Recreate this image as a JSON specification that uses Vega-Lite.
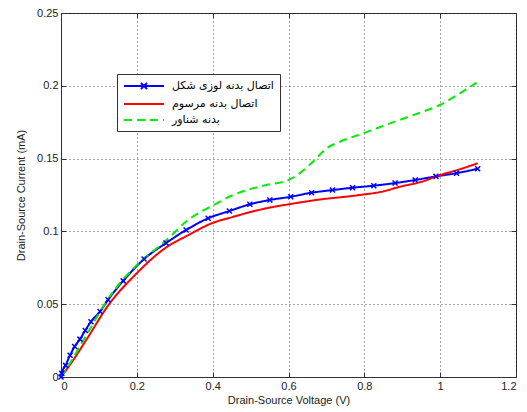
{
  "$schema": "https://vega.github.io/schema/vega-lite/v6.json",
  "width": 455,
  "height": 364,
  "autosize": {"type": "none"},
  "padding": {"left": 61, "top": 13, "right": 11, "bottom": 35},
  "background": "white",
  "config": {
    "view": {"stroke": "#333", "strokeWidth": 1},
    "font": "Liberation Sans",
    "axis": {
      "labelFont": "Liberation Sans",
      "labelFontSize": 11,
      "labelColor": "#222",
      "titleFont": "Liberation Sans",
      "titleFontSize": 11,
      "titleFontWeight": "normal",
      "titleColor": "#222",
      "domainColor": "#333",
      "tickColor": "#333",
      "tickSize": -5,
      "gridColor": "#000",
      "gridDash": [1, 3],
      "gridOpacity": 0.7,
      "labelPadding": 8
    }
  },
  "data": {
    "values": [
      {"s": "اتصال بدنه لوزی شکل", "v": 0, "i": 0},
      {"s": "اتصال بدنه لوزی شکل", "v": 0.002, "i": 0.0025},
      {"s": "اتصال بدنه لوزی شکل", "v": 0.012, "i": 0.008},
      {"s": "اتصال بدنه لوزی شکل", "v": 0.024, "i": 0.015},
      {"s": "اتصال بدنه لوزی شکل", "v": 0.036, "i": 0.021},
      {"s": "اتصال بدنه لوزی شکل", "v": 0.05, "i": 0.026},
      {"s": "اتصال بدنه لوزی شکل", "v": 0.064, "i": 0.032},
      {"s": "اتصال بدنه لوزی شکل", "v": 0.079, "i": 0.038},
      {"s": "اتصال بدنه لوزی شکل", "v": 0.103, "i": 0.045},
      {"s": "اتصال بدنه لوزی شکل", "v": 0.124, "i": 0.053},
      {"s": "اتصال بدنه لوزی شکل", "v": 0.164, "i": 0.066},
      {"s": "اتصال بدنه لوزی شکل", "v": 0.219, "i": 0.081},
      {"s": "اتصال بدنه لوزی شکل", "v": 0.277, "i": 0.092},
      {"s": "اتصال بدنه لوزی شکل", "v": 0.33, "i": 0.101},
      {"s": "اتصال بدنه لوزی شکل", "v": 0.388, "i": 0.109},
      {"s": "اتصال بدنه لوزی شکل", "v": 0.444, "i": 0.114},
      {"s": "اتصال بدنه لوزی شکل", "v": 0.498, "i": 0.1186},
      {"s": "اتصال بدنه لوزی شکل", "v": 0.551, "i": 0.1216},
      {"s": "اتصال بدنه لوزی شکل", "v": 0.606, "i": 0.1238},
      {"s": "اتصال بدنه لوزی شکل", "v": 0.661, "i": 0.1266},
      {"s": "اتصال بدنه لوزی شکل", "v": 0.716, "i": 0.1284},
      {"s": "اتصال بدنه لوزی شکل", "v": 0.769, "i": 0.13},
      {"s": "اتصال بدنه لوزی شکل", "v": 0.825, "i": 0.1314},
      {"s": "اتصال بدنه لوزی شکل", "v": 0.881, "i": 0.1332},
      {"s": "اتصال بدنه لوزی شکل", "v": 0.934, "i": 0.1353},
      {"s": "اتصال بدنه لوزی شکل", "v": 0.989, "i": 0.1378},
      {"s": "اتصال بدنه لوزی شکل", "v": 1.043, "i": 0.14},
      {"s": "اتصال بدنه لوزی شکل", "v": 1.099, "i": 0.143},
      {"s": "اتصال بدنه مرسوم", "v": 0, "i": 0},
      {"s": "اتصال بدنه مرسوم", "v": 0.02, "i": 0.007},
      {"s": "اتصال بدنه مرسوم", "v": 0.072, "i": 0.0277},
      {"s": "اتصال بدنه مرسوم", "v": 0.124, "i": 0.049},
      {"s": "اتصال بدنه مرسوم", "v": 0.195, "i": 0.07},
      {"s": "اتصال بدنه مرسوم", "v": 0.274, "i": 0.0884},
      {"s": "اتصال بدنه مرسوم", "v": 0.336, "i": 0.0975},
      {"s": "اتصال بدنه مرسوم", "v": 0.397, "i": 0.1055},
      {"s": "اتصال بدنه مرسوم", "v": 0.454, "i": 0.11},
      {"s": "اتصال بدنه مرسوم", "v": 0.542, "i": 0.1159},
      {"s": "اتصال بدنه مرسوم", "v": 0.6, "i": 0.1186},
      {"s": "اتصال بدنه مرسوم", "v": 0.674, "i": 0.1216},
      {"s": "اتصال بدنه مرسوم", "v": 0.788, "i": 0.125},
      {"s": "اتصال بدنه مرسوم", "v": 0.85, "i": 0.1275},
      {"s": "اتصال بدنه مرسوم", "v": 0.894, "i": 0.1307},
      {"s": "اتصال بدنه مرسوم", "v": 0.95, "i": 0.134},
      {"s": "اتصال بدنه مرسوم", "v": 1.0, "i": 0.1387},
      {"s": "اتصال بدنه مرسوم", "v": 1.05, "i": 0.1425},
      {"s": "اتصال بدنه مرسوم", "v": 1.099, "i": 0.1468},
      {"s": "بدنه شناور", "v": 0, "i": 0},
      {"s": "بدنه شناور", "v": 0.02, "i": 0.008},
      {"s": "بدنه شناور", "v": 0.072, "i": 0.031},
      {"s": "بدنه شناور", "v": 0.125, "i": 0.054},
      {"s": "بدنه شناور", "v": 0.204, "i": 0.078},
      {"s": "بدنه شناور", "v": 0.274, "i": 0.093},
      {"s": "بدنه شناور", "v": 0.336, "i": 0.108},
      {"s": "بدنه شناور", "v": 0.402, "i": 0.118},
      {"s": "بدنه شناور", "v": 0.454, "i": 0.125},
      {"s": "بدنه شناور", "v": 0.542, "i": 0.1319},
      {"s": "بدنه شناور", "v": 0.6, "i": 0.1353},
      {"s": "بدنه شناور", "v": 0.63, "i": 0.14},
      {"s": "بدنه شناور", "v": 0.665, "i": 0.148},
      {"s": "بدنه شناور", "v": 0.7, "i": 0.157},
      {"s": "بدنه شناور", "v": 0.736, "i": 0.1616},
      {"s": "بدنه شناور", "v": 0.802, "i": 0.1678},
      {"s": "بدنه شناور", "v": 0.868, "i": 0.1742},
      {"s": "بدنه شناور", "v": 0.934, "i": 0.1804},
      {"s": "بدنه شناور", "v": 0.999, "i": 0.1868},
      {"s": "بدنه شناور", "v": 1.052, "i": 0.1948},
      {"s": "بدنه شناور", "v": 1.096, "i": 0.2021}
    ]
  },
  "layer": [
    {
      "mark": {"type": "line", "strokeWidth": 2, "interpolate": "monotone"},
      "encoding": {
        "x": {
          "field": "v", "type": "quantitative",
          "scale": {"domain": [0, 1.2], "nice": false, "zero": false},
          "axis": {"values": [0, 0.2, 0.4, 0.6, 0.8, 1, 1.2], "format": "~g", "title": "Drain-Source Voltage (V)", "titlePadding": 3, "grid": true}
        },
        "y": {
          "field": "i", "type": "quantitative",
          "scale": {"domain": [0, 0.25], "nice": false},
          "axis": {"values": [0, 0.05, 0.1, 0.15, 0.2, 0.25], "format": "~g", "title": "Drain-Source Current (mA)", "titlePadding": 10, "grid": true}
        },
        "color": {
          "field": "s", "type": "nominal",
          "scale": {"domain": ["اتصال بدنه لوزی شکل", "اتصال بدنه مرسوم", "بدنه شناور"], "range": ["#0000ff", "#ff0000", "#00ee00"]},
          "legend": {
            "title": null,
            "orient": "none",
            "legendX": 56,
            "legendY": 61,
            "direction": "vertical",
            "strokeColor": "#333",
            "fillColor": "white",
            "padding": 6,
            "labelFont": "DejaVu Sans",
            "labelFontSize": 11,
            "labelColor": "#000",
            "labelLimit": 300,
            "symbolType": "M-4,0L4,0",
            "symbolSize": 100,
            "symbolStrokeWidth": 2,
            "symbolOffset": 15,
            "labelOffset": 22,
            "rowPadding": 5,
            "encode": {
              "symbols": {
                "update": {
                  "shape": {"signal": "datum.index === 0 ? 'M-4,0L4,0M-0.6,-0.6L0.6,0.6M-0.6,0.6L0.6,-0.6' : 'M-4,0L4,0'"}
                }
              }
            }
          }
        },
        "strokeDash": {
          "field": "s", "type": "nominal",
          "scale": {"domain": ["اتصال بدنه لوزی شکل", "اتصال بدنه مرسوم", "بدنه شناور"], "range": [[1, 0], [1, 0], [8, 5]]},
          "legend": null
        }
      }
    },
    {
      "transform": [{"filter": "datum.s === 'اتصال بدنه لوزی شکل'"}],
      "mark": {"type": "point", "shape": "M-1,-1L1,1M-1,1L1,-1", "size": 25, "filled": false, "strokeWidth": 1.5, "color": "#0000ff", "opacity": 1},
      "encoding": {
        "x": {"field": "v", "type": "quantitative", "axis": null},
        "y": {"field": "i", "type": "quantitative", "axis": null}
      }
    },
    {
      "mark": {"type": "point", "opacity": 0},
      "encoding": {
        "x": {"field": "v", "type": "quantitative", "axis": {"orient": "top", "values": [0, 0.2, 0.4, 0.6, 0.8, 1, 1.2], "labels": false, "title": null, "grid": false, "domain": false}},
        "y": {"field": "i", "type": "quantitative", "axis": {"orient": "right", "values": [0, 0.05, 0.1, 0.15, 0.2, 0.25], "labels": false, "title": null, "grid": false, "domain": false}}
      }
    }
  ],
  "resolve": {"axis": {"x": "independent", "y": "independent"}}
}
